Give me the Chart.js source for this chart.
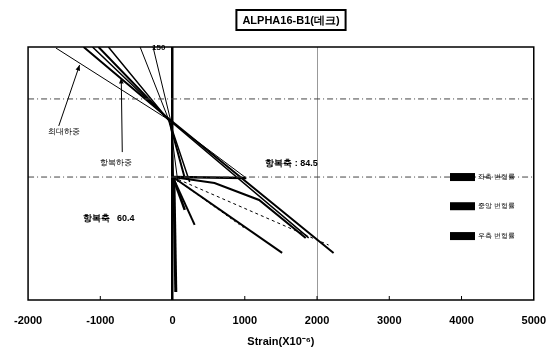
<!DOCTYPE html>
<html><head><meta charset="utf-8">
<script src="https://cdn.jsdelivr.net/npm/chart.js@4.4.1/dist/chart.umd.min.js"></script>
<style>html,body{margin:0;padding:0;background:#fff}#wrap{width:560px;height:355px}</style>
</head><body><div id="wrap"><canvas id="c" width="560" height="355"></canvas></div>
<script>
// ---- data (strain x10^-6, load) ----
const chartTitle = "ALPHA16-B1(데크)";
const xTitle = "Strain(X10⁻⁶)";
const xMin = -2000, xMax = 5000, xStep = 1000;
const yMin = 0, yMax = 150;
const maxLoad = 119.2;     // 최대하중 level
const yieldLoad = 72.9;    // 항복하중 level

const u1X = [-1615, -92, 1020],   u1Y = [149.4, 107.9, 72.3];
const u2X = [-1231, -65, 2229],   u2Y = [150, 107.9, 27.9];
const u3X = [-1108, -65, 1884],   u3Y = [150, 107.3, 36.8];
const u4X = [-1025, -50, 169],    u4Y = [150, 106.7, 72.3];
const u5X = [-888, -45, 237],     u5Y = [150, 106.1, 70.0];
const u6X = [-449, -30, 73],      u6Y = [150, 104.4, 70.0];
const u7X = [-270, -15, 18],      u7Y = [150, 104.4, 68.2];

const d1X = [4, 1020],            d1Y = [72.9, 72.3];
const d2X = [4, 581, 1198, 1843], d2Y = [72.9, 69.4, 59.3, 36.8];
const d3X = [4, 1517],            d3Y = [72.9, 27.9];
const d4X = [4, 2160],            d4Y = [72.9, 32.6];
const d5X = [4, 992],             d5Y = [72.9, 42.7];
const d6X = [4, 169],             d6Y = [72.9, 53.4];
const d7X = [4, 306],             d7Y = [72.9, 44.5];
const d8X = [18, 45],             d8Y = [72.9, 4.7];

const legendLabels = ["좌측 변형률", "중앙 변형률", "우측 변형률"];
const legendLoads = [72.9, 55.6, 37.9];

const notes = [
  {x: -1724, y: 99.6, t: "최대하중", bold: false, size: 8},
  {x: -998,  y: 81.2, t: "항복하중", bold: false, size: 8},
  {x: 1282,  y: 81.2, t: "항복축 : 84.5", bold: true, size: 9},
  {x: -1245, y: 48.6, t: "항복축   60.4", bold: true, size: 9},
  {x: -284,  y: 149.4, t: "150", bold: true, size: 8}
];
const arrows = [
  {x1: -1575, y1: 103.2, x2: -1287, y2: 139.3},
  {x1: -696,  y1: 87.7,  x2: -710,  y2: 131.6}
];

function pts(xs, ys){ return xs.map((x,i)=>({x:x, y:ys[i]})); }
function ds(xs, ys, w, dash, col){
  return {data: pts(xs, ys), showLine: true, borderColor: col || '#000', borderWidth: w,
          borderDash: dash || [], pointRadius: 0, fill: false, tension: 0};
}

const datasets = [
  ds([xMin, xMax], [maxLoad, maxLoad], 1, [6,3,1,3], '#444'),
  ds([xMin, xMax], [yieldLoad, yieldLoad], 1, [6,3,1,3], '#444'),
  ds(u1X, u1Y, 1), ds(u2X, u2Y, 2), ds(u3X, u3Y, 1.5), ds(u4X, u4Y, 2),
  ds(u5X, u5Y, 1.5), ds(u6X, u6Y, 1), ds(u7X, u7Y, 1),
  ds(d1X, d1Y, 2.5), ds(d2X, d2Y, 2), ds(d3X, d3Y, 2), ds(d4X, d4Y, 1, [3,3]),
  ds(d5X, d5Y, 1, [2,3]), ds(d6X, d6Y, 2.5), ds(d7X, d7Y, 2), ds(d8X, d8Y, 3)
];

const FONT = "'Liberation Sans', Arial, sans-serif";

const deco = {
  id: 'deco',
  afterDraw(chart){
    const {ctx, chartArea: a, scales: {x, y}} = chart;
    ctx.save();
    // plot border
    ctx.strokeStyle = '#000'; ctx.lineWidth = 1.5;
    ctx.strokeRect(a.left, a.top, a.right - a.left, a.bottom - a.top);
    // small inward tick marks on bottom axis
    ctx.lineWidth = 1;
    for (let v = xMin + xStep; v < xMax; v += xStep) {
      const px = x.getPixelForValue(v);
      ctx.beginPath(); ctx.moveTo(px, a.bottom); ctx.lineTo(px, a.bottom - 4); ctx.stroke();
    }
    // title box
    ctx.font = "bold 11px " + FONT;
    const tw = ctx.measureText(chartTitle).width;
    const cx = 291, cy = 20;
    ctx.lineWidth = 2;
    ctx.strokeRect(cx - tw/2 - 6, cy - 10, tw + 12, 20);
    ctx.fillStyle = '#000'; ctx.textAlign = 'center'; ctx.textBaseline = 'middle';
    ctx.fillText(chartTitle, cx, cy + 1);
    // notes
    ctx.textAlign = 'left';
    notes.forEach(n => {
      ctx.font = (n.bold ? 'bold ' : '') + n.size + 'px ' + FONT;
      ctx.fillText(n.t, x.getPixelForValue(n.x), y.getPixelForValue(n.y));
    });
    // arrows
    ctx.lineWidth = 1;
    arrows.forEach(r => {
      const x1 = x.getPixelForValue(r.x1), y1 = y.getPixelForValue(r.y1);
      const x2 = x.getPixelForValue(r.x2), y2 = y.getPixelForValue(r.y2);
      ctx.beginPath(); ctx.moveTo(x1, y1); ctx.lineTo(x2, y2); ctx.stroke();
      const ang = Math.atan2(y2 - y1, x2 - x1);
      ctx.beginPath(); ctx.moveTo(x2, y2);
      ctx.lineTo(x2 - 6*Math.cos(ang - 0.4), y2 - 6*Math.sin(ang - 0.4));
      ctx.lineTo(x2 - 6*Math.cos(ang + 0.4), y2 - 6*Math.sin(ang + 0.4));
      ctx.closePath(); ctx.fill();
    });
    // legend
    ctx.font = '7px ' + FONT;
    ctx.textBaseline = 'middle';
    legendLabels.forEach((l, i) => {
      const py = y.getPixelForValue(legendLoads[i]);
      ctx.fillRect(450, py - 4, 25, 8);
      ctx.fillText(l, 478, py);
    });
    ctx.restore();
  }
};

new Chart(document.getElementById('c'), {
  type: 'scatter',
  data: {datasets},
  options: {
    responsive: false, animation: false,
    layout: {padding: {left: 27, right: 23, top: 47, bottom: 0}},
    plugins: {legend: {display: false}, tooltip: {enabled: false}},
    scales: {
      x: {
        type: 'linear', min: xMin, max: xMax,
        afterFit(s){ s.height = 55; },
        border: {display: false},
        grid: {
          drawTicks: false,
          color: c => c.tick && c.tick.value === 0 ? '#000' : (c.tick && c.tick.value === 2000 ? '#999' : 'rgba(0,0,0,0)'),
          lineWidth: c => c.tick && c.tick.value === 0 ? 2.5 : 1
        },
        ticks: {stepSize: xStep, color: '#000', padding: 14,
                callback: v => String(v),
                font: {family: FONT, size: 11, weight: 'bold'}},
        title: {display: true, text: xTitle, color: '#000',
                font: {family: FONT, size: 11, weight: 'bold'}, padding: {top: 0, bottom: 6}}
      },
      y: {
        type: 'linear', min: yMin, max: yMax, display: false
      }
    }
  },
  plugins: [deco]
});
</script></body></html>
